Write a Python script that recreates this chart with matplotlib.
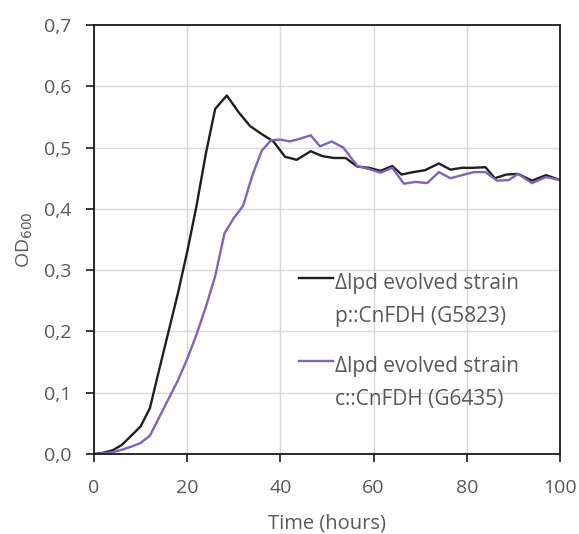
import matplotlib
matplotlib.use("Agg")
import matplotlib.pyplot as plt
import numpy as np
from matplotlib.ticker import FuncFormatter
from matplotlib.legend_handler import HandlerLine2D
from matplotlib.lines import Line2D

plt.rcParams['font.family'] = ['Open Sans', 'DejaVu Sans']

# Data
time_black = [0, 2, 4, 6, 8, 10, 12, 14, 16, 18, 20, 22, 24, 26, 28.5, 31, 33.5, 36, 38.5,
              41, 43.5, 46.5, 49, 51.5, 54, 56.5, 59, 61.5, 64, 66, 68.5, 71, 74, 76.5,
              79, 81.5, 84, 86, 88.5, 91, 94, 97, 100]
od_black = [0.0, 0.002, 0.006, 0.015, 0.03, 0.045, 0.075, 0.138, 0.2, 0.262, 0.33, 0.405,
            0.49, 0.563, 0.585, 0.558, 0.535, 0.522, 0.51, 0.485, 0.48, 0.494, 0.486,
            0.483, 0.483, 0.469, 0.467, 0.462, 0.47, 0.456, 0.46, 0.463, 0.474, 0.464,
            0.467, 0.467, 0.468, 0.45, 0.456, 0.457, 0.446, 0.455, 0.447]

time_purple = [0, 2, 4, 6, 8, 10, 12, 14, 16, 18, 20, 22, 24, 26, 28, 30, 32, 34, 36, 38,
               40, 42, 44, 46.5, 48.5, 51, 53.5, 56.5, 59, 61.5, 64, 66.5, 69, 71.5, 74,
               76.5, 79, 81.5, 84, 86.5, 89, 91, 94, 97, 100]
od_purple = [0.0, 0.001, 0.003, 0.007, 0.012, 0.018, 0.03, 0.06, 0.09, 0.12, 0.155,
             0.195, 0.24, 0.29, 0.36, 0.385, 0.405, 0.455, 0.495, 0.512, 0.513, 0.51,
             0.514, 0.52, 0.502, 0.51, 0.5, 0.47, 0.465, 0.459, 0.467, 0.441, 0.444,
             0.442, 0.46, 0.45, 0.455, 0.46, 0.46, 0.446, 0.447, 0.457, 0.442, 0.452,
             0.447]

label_black = "\u0394lpd evolved strain\np::CnFDH (G5823)"
label_purple = "\u0394lpd evolved strain\nc::CnFDH (G6435)"

x_ticks = [0, 20, 40, 60, 80, 100]
y_ticks = [0.0, 0.1, 0.2, 0.3, 0.4, 0.5, 0.6, 0.7]

TEXT = '#595959'


class TopHandler(HandlerLine2D):
    """Legend line aligned with the first line of a two-line label."""

    def __init__(self, offset, **kw):
        super().__init__(**kw)
        self.offset = offset

    def create_artists(self, legend, orig_handle, xdescent, ydescent, width, height,
                       fontsize, trans):
        arts = super().create_artists(legend, orig_handle, xdescent, ydescent, width,
                                      height, fontsize, trans)
        for a in arts:
            if isinstance(a, Line2D):
                a.set_ydata(np.asarray(a.get_ydata(), dtype=float) + self.offset)
        return arts


fig = plt.figure(figsize=(5.79, 5.34), dpi=100)
ax = fig.add_axes([94/579, (534-454)/534, (560-94)/579, (454-25)/534])

l1, = ax.plot(time_black, od_black, color='#1f1f1f', lw=1.7, label=label_black)
l2, = ax.plot(time_purple, od_purple, color='#8064b8', lw=1.7, label=label_purple)

ax.set_xlim(0, 100)
ax.set_ylim(0, 0.7)
ax.set_xticks(x_ticks)
ax.set_yticks(y_ticks)
ax.yaxis.set_major_formatter(FuncFormatter(lambda v, p: f"{v:.1f}".replace('.', ',')))
ax.grid(True, color='#d9d9d9', lw=1)
ax.set_axisbelow(True)
for s in ax.spines.values():
    s.set_color('#1a1a1a')
    s.set_linewidth(1.3)
ax.tick_params(direction='out', length=6, width=1.2, color='#1a1a1a',
               labelsize=14, labelcolor=TEXT)
ax.tick_params(axis='x', pad=12)
ax.tick_params(axis='y', pad=10)

ax.set_xlabel("Time (hours)", fontsize=14.5, color=TEXT, labelpad=12)
ax.set_ylabel("OD$_{600}$", fontsize=14, color=TEXT, labelpad=7)

h = TopHandler(16.5)
leg = ax.legend(handles=[l1, l2], loc='upper left',
                bbox_to_anchor=(299/579, 1 - 273/534), bbox_transform=fig.transFigure,
                frameon=False, borderpad=0, borderaxespad=0,
                fontsize=15, labelcolor=TEXT, handlelength=1.65,
                handletextpad=0.1, labelspacing=1.4,
                handler_map={l1: h, l2: h})
for t in leg.get_texts():
    t.set_linespacing(1.75)

fig.savefig("out.png", dpi=100)
